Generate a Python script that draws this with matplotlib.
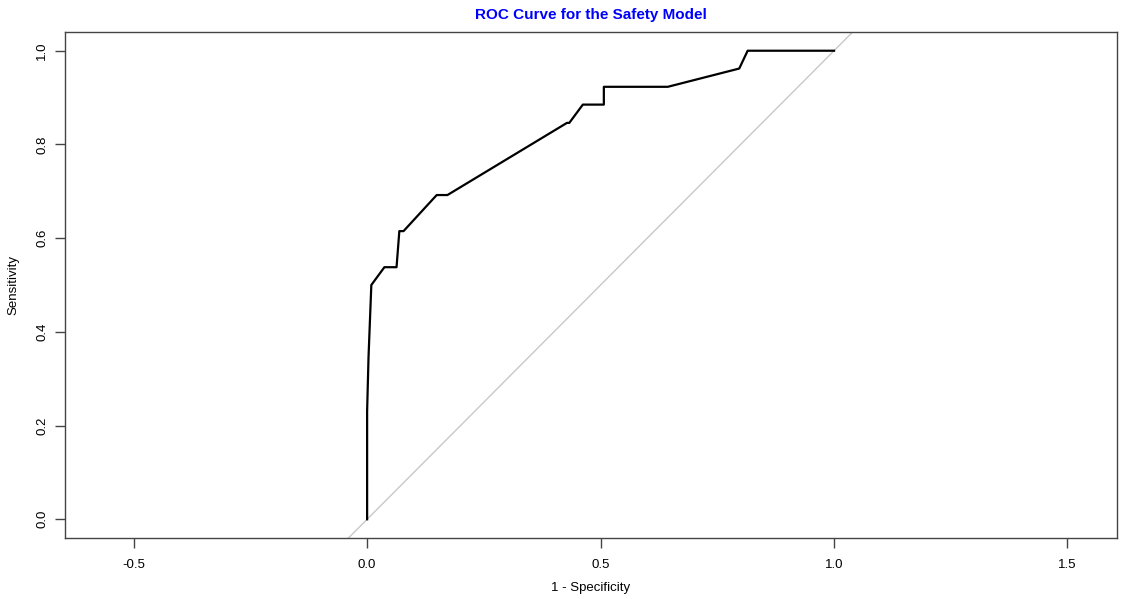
import matplotlib
matplotlib.use("Agg")
import matplotlib.pyplot as plt

plt.rcParams['font.family'] = ['Liberation Sans', 'DejaVu Sans']

# ROC points (1 - specificity, sensitivity)
fpr = [0.0, 0.0, 0.003, 0.006, 0.009, 0.037, 0.063, 0.069, 0.078,
       0.149, 0.172, 0.428, 0.433, 0.462, 0.507, 0.507, 0.644, 0.797,
       0.815, 1.0]
tpr = [0.0, 0.231, 0.346, 0.423, 0.500, 0.538, 0.538, 0.615, 0.615,
       0.692, 0.692, 0.846, 0.846, 0.885, 0.885, 0.923, 0.923, 0.962,
       1.0, 1.0]

xticks = [-0.5, 0.0, 0.5, 1.0, 1.5]
yticks = [0.0, 0.2, 0.4, 0.6, 0.8, 1.0]

fig = plt.figure(figsize=(11.31, 5.99), dpi=100)
ax = fig.add_axes([0.0575, 0.1018, 0.9301, 0.8448])

# diagonal reference line
ax.plot([-1, 2], [-1, 2], color='#c8c8c8', lw=1)
ax.plot(fpr, tpr, color='black', lw=1.6)

ax.set_xlim(-0.647, 1.606)
ax.set_ylim(-0.04, 1.04)
ax.set_xticks(xticks)
ax.set_xticklabels([f'{v:.1f}' for v in xticks])
ax.set_yticks(yticks)
ax.set_yticklabels([f'{v:.1f}' for v in yticks], rotation=90, va='center')

for s in ax.spines.values():
    s.set_color('#444444')
    s.set_linewidth(1)
ax.tick_params(direction='out', length=7, width=1, color='#444444',
               labelsize=9.5)
ax.tick_params(axis='x', pad=8)
ax.tick_params(axis='y', pad=5)

ax.set_xlabel('1 - Specificity', fontsize=9.5, labelpad=8)
ax.set_ylabel('Sensitivity', fontsize=9.5, labelpad=12)
ax.set_title('ROC Curve for the Safety Model', color='#0000ff',
             fontweight='bold', fontsize=11, pad=9)

fig.savefig('out.png', dpi=100)
